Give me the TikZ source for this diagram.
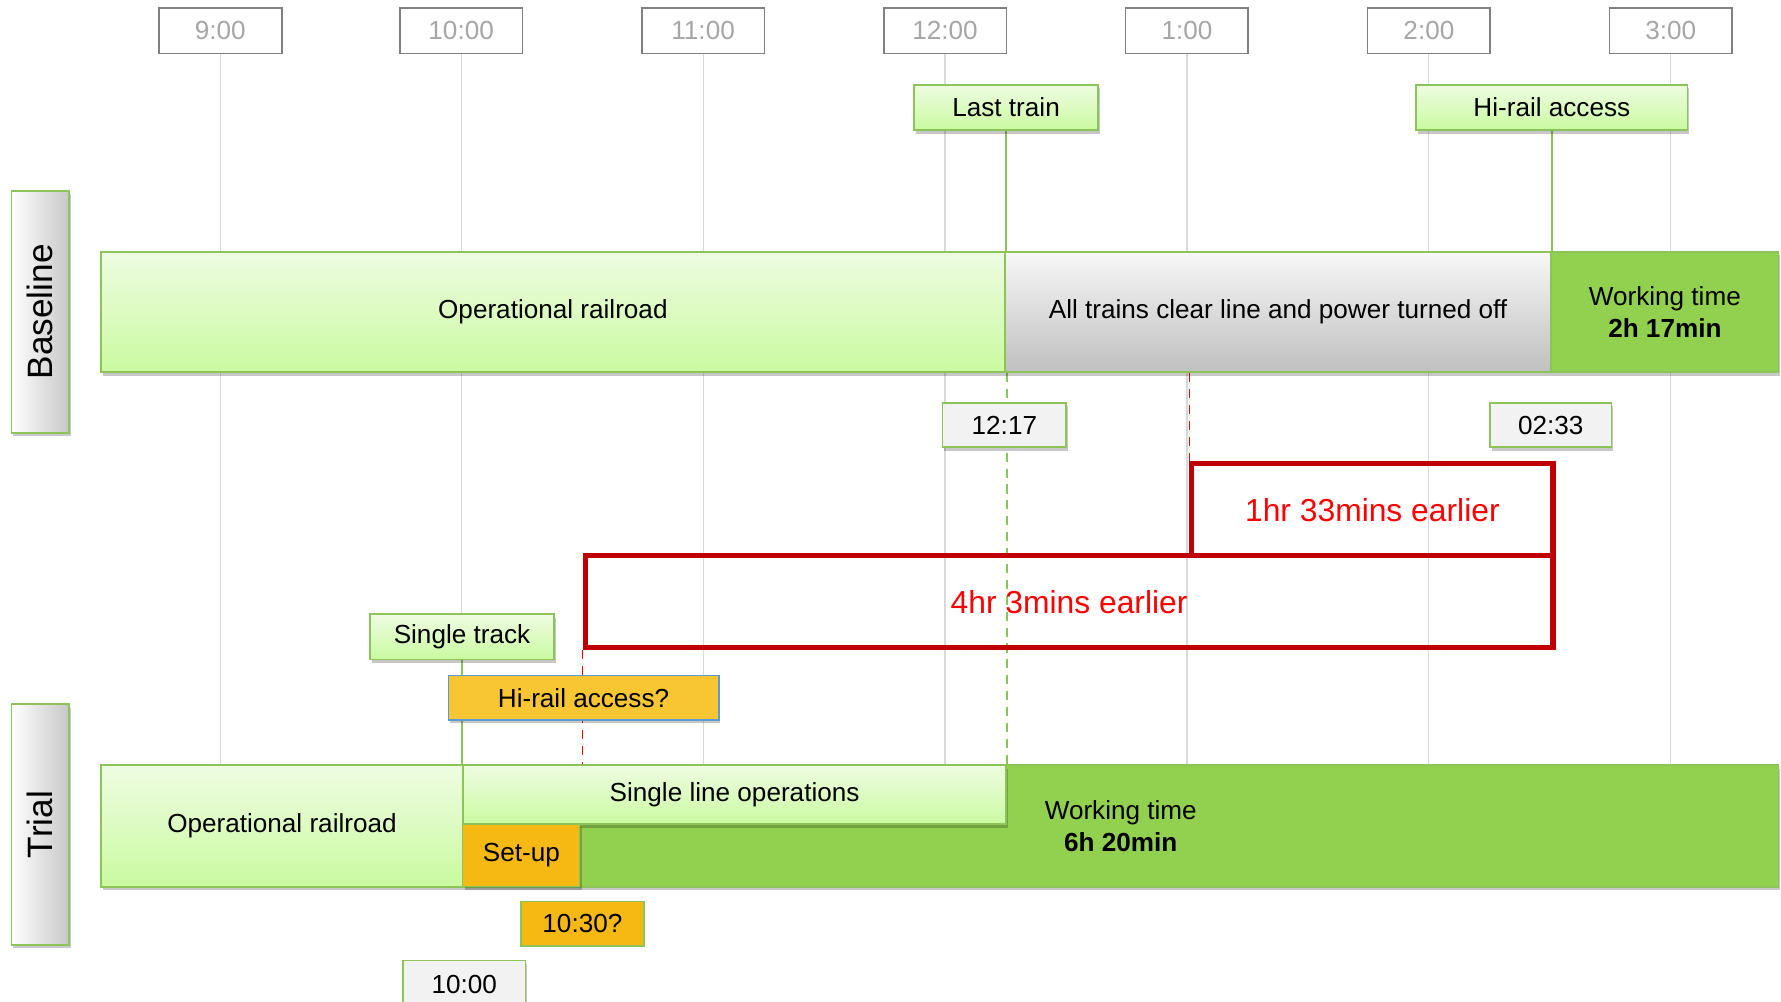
\documentclass[tikz,border=0pt]{standalone}
\usepackage{fontspec}
\setmainfont{Liberation Sans}
\usetikzlibrary{shadows,backgrounds}
\definecolor{paletop}{RGB}{238,252,226}
\definecolor{palebot}{RGB}{202,250,160}
\definecolor{barline}{RGB}{140,196,90}
\definecolor{workgreen}{RGB}{146,208,80}
\definecolor{setuporange}{RGB}{246,185,20}
\definecolor{hirailyellow}{RGB}{249,198,51}
\definecolor{railblue}{RGB}{91,155,213}
\definecolor{warnred}{RGB}{192,0,0}
\definecolor{hourgray}{RGB}{128,128,128}
\definecolor{hourtext}{RGB}{166,166,166}
\definecolor{gridgray}{RGB}{217,217,217}
\definecolor{stampgray}{RGB}{242,242,242}
\tikzset{%
  slot/.style     = {shape=rectangle, inner sep=0pt, anchor=north west,%
                     align=center, font=\fontsize{23}{28}\selectfont},%
  shadowed/.style = {drop shadow={shadow xshift=1.5pt, shadow yshift=-3pt,%
                     opacity=0.22, fill=black}},%
  hour/.style     = {slot, anchor=center, draw=hourgray, line width=1.5pt,%
                     fill=white, text=hourtext,%
                     minimum width=108pt, minimum height=40pt},%
  pale/.style     = {slot, shadowed, draw=barline, line width=1.5pt,%
                     top color=paletop, bottom color=palebot},%
  dim/.style      = {slot, shadowed, draw=barline, line width=1.5pt,%
                     top color=white!97!black, bottom color=black!25},%
  workfill/.style = {slot, shadowed, draw=barline, line width=1.5pt, fill=workgreen},%
  stamp/.style    = {slot, shadowed, draw=barline, line width=1.5pt, fill=stampgray},%
  earlier/.style  = {slot, draw=warnred, line width=4.5pt, text=red,%
                     font=\fontsize{28}{32}\selectfont},%
  rowlabel/.style = {slot, anchor=center, shadowed, draw=barline, line width=1.5pt,%
                     rotate=90, left color=white, right color=black!22,%
                     minimum height=51pt, font=\fontsize{31}{36}\selectfont},%
  hourline/.style = {draw=gridgray, line width=1pt}%
}

\begin{document}
\begin{tikzpicture}
[x=1pt,y=-1pt]
	\useasboundingbox (0,0) rectangle (1568,882);
	\foreach \t/\x [count=\i] in {9:00/194,10:00/406,11:00/619,12:00/832,1:00/1045,2:00/1258,3:00/1471}
		\node[hour] (h\i) at (\x,27) {\t};
	\node[rowlabel, minimum width=213pt] (baselab) at (35.5,274.5) {Baseline};
	\node[rowlabel, minimum width=212pt] (triallab) at (35.5,726) {Trial};
	\node[pale, minimum width=796pt, minimum height=106pt] (baseop) at (88,221) {Operational railroad};
	\node[dim, minimum width=481pt, minimum height=106pt] (clear) at (884,221) {All trains clear line and power turned off};
	\node[workfill, minimum width=200pt, minimum height=106pt] (basework) at (1365,221) {Working time\\\textbf{2h 17min}};
	\node[pale, minimum width=162pt, minimum height=40pt] (lasttrain) at (804,74) {Last train};
	\node[pale, minimum width=239pt, minimum height=40pt] (hirail) at (1246,74) {Hi-rail access};
	\node[stamp, minimum width=109pt, minimum height=39pt] (t1217) at (829,354) {12:17};
	\node[stamp, minimum width=107pt, minimum height=39pt] (t0233) at (1311,354) {02:33};
	\node[earlier, minimum width=318pt, minimum height=81pt] (early1) at (1047,406) {1hr 33mins earlier};
	\node[earlier, minimum width=852pt, minimum height=81pt] (early4) at (513,487) {4hr 3mins earlier};
	\node[pale, minimum width=162pt, minimum height=40pt] (single) at (325,540) {Single track};
	\node[slot, shadowed, draw=railblue, line width=1.5pt, fill=hirailyellow,
		minimum width=238pt, minimum height=39pt] (hirailq) at (394,594) {Hi-rail access?};
	\node[pale, minimum width=319pt, minimum height=107pt] (trialop) at (88,673) {Operational railroad};
	\node[workfill, minimum width=1158pt, minimum height=107pt] (trialwork) at (407,673) {Working time\\\textbf{6h 20min}};
	\node[pale, minimum width=478pt, minimum height=52pt] (singleline) at (407,673) {Single line operations};
	\node[slot, shadowed, draw=barline, line width=1pt, fill=setuporange,
		minimum width=103pt, minimum height=55pt] (setup) at (407,725) {Set-up};
	\node[slot, draw=barline, line width=1.5pt, fill=setuporange,
		minimum width=108pt, minimum height=39pt] (t1030) at (458,793) {10:30?};
	\node[stamp, minimum width=108pt, minimum height=42pt] (t1000) at (354,845) {10:00};
	\begin{pgfonlayer}{background}
		\foreach \i in {1,...,7}
			\draw[hourline] (h\i.south) -- (h\i.south |- trialwork.north);
		\draw[barline, line width=1.5pt] (lasttrain.south) -- (lasttrain.south |- baseop.north);
		\draw[barline, line width=1.5pt] (hirail.south) -- (hirail.south |- clear.north);
		\draw[barline, line width=1.5pt] (single.south) -- (single.south |- trialop.north);
		\draw[barline, line width=1.2pt, dash pattern=on 8pt off 6pt] (singleline.north east |- clear.south) -- (singleline.north east);
		\draw[red, line width=1.2pt, dash pattern=on 8pt off 6pt] (early1.north west |- clear.south) -- (early1.north west);
		\draw[red, line width=1.2pt, dash pattern=on 8pt off 6pt] (early4.south west) -- (early4.south west |- trialwork.north);
	\end{pgfonlayer}
\end{tikzpicture}
\end{document}
